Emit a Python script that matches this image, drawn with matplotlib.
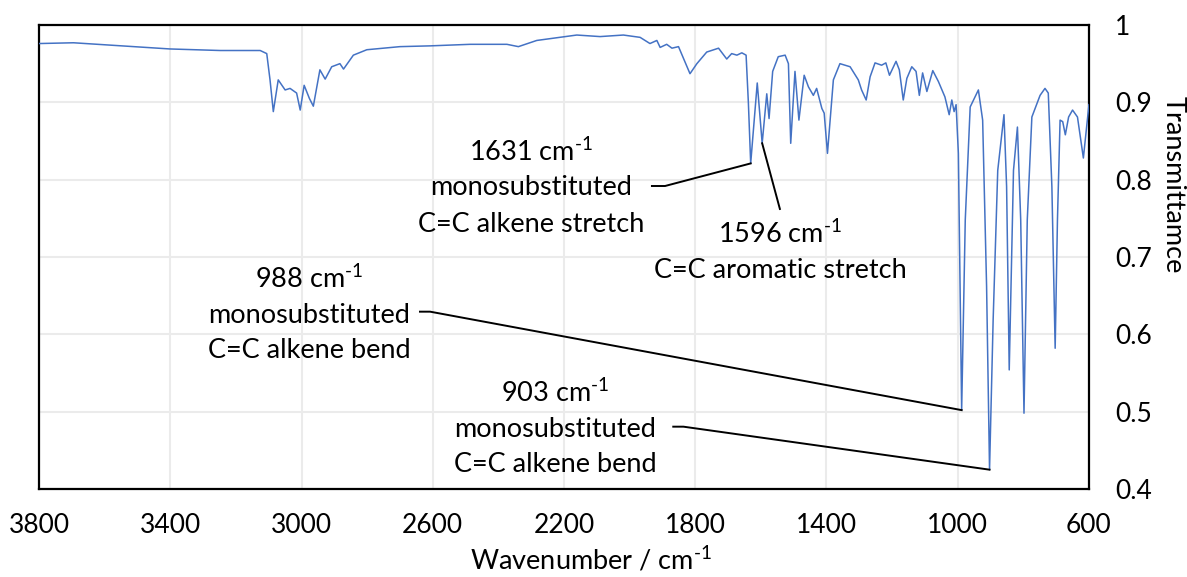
import numpy as np
import matplotlib.pyplot as plt

plt.rcParams['font.family'] = ['Lato', 'DejaVu Sans']
plt.rcParams['mathtext.fontset'] = 'custom'
plt.rcParams['mathtext.rm'] = 'Lato'
plt.rcParams['mathtext.default'] = 'regular'

# IR spectrum (wavenumber in cm-1, transmittance)
wavenumber = [
    3800, 3695, 3550, 3401, 3248, 3126, 3106, 3096, 3086, 3071, 3050, 3035,
    3015, 3004, 2992, 2976, 2964, 2944, 2928, 2908, 2883, 2872, 2842, 2801,
    2700, 2608, 2486, 2374, 2339, 2283, 2161, 2090, 2019, 1968, 1938, 1917,
    1907, 1887, 1871, 1851, 1836, 1816, 1795, 1765, 1729, 1704, 1689, 1673,
    1658, 1645, 1638, 1631, 1611, 1596, 1582, 1575, 1564, 1547, 1526, 1516,
    1509, 1496, 1484, 1468, 1455, 1440, 1430, 1414, 1407, 1397, 1387, 1379,
    1359, 1328, 1303, 1293, 1279, 1267, 1252, 1232, 1219, 1208, 1188, 1178,
    1166, 1155, 1140, 1127, 1117, 1107, 1094, 1076, 1059, 1039, 1026, 1018,
    1011, 1005, 998, 988, 977, 962, 937, 924, 912, 903, 892, 878,
    859, 851, 843, 830, 818, 808, 798, 788, 774, 749, 734, 724,
    713, 703, 696, 688, 680, 672, 662, 650, 635, 617, 600,
]
transmittance = [
    0.976, 0.977, 0.973, 0.969, 0.967, 0.967, 0.963, 0.929, 0.888, 0.929, 0.916, 0.918,
    0.912, 0.890, 0.922, 0.905, 0.895, 0.942, 0.930, 0.946, 0.950, 0.943, 0.961, 0.968,
    0.972, 0.973, 0.975, 0.975, 0.972, 0.980, 0.987, 0.985, 0.987, 0.984, 0.976, 0.980,
    0.971, 0.975, 0.970, 0.972, 0.957, 0.937, 0.950, 0.965, 0.970, 0.956, 0.963, 0.961,
    0.964, 0.961, 0.899, 0.821, 0.925, 0.847, 0.911, 0.879, 0.940, 0.959, 0.961, 0.950,
    0.847, 0.940, 0.877, 0.935, 0.920, 0.909, 0.918, 0.892, 0.886, 0.834, 0.886, 0.929,
    0.950, 0.946, 0.929, 0.916, 0.903, 0.933, 0.951, 0.948, 0.951, 0.935, 0.953, 0.942,
    0.903, 0.931, 0.946, 0.940, 0.909, 0.938, 0.914, 0.941, 0.927, 0.907, 0.884, 0.903,
    0.888, 0.897, 0.834, 0.502, 0.748, 0.894, 0.916, 0.877, 0.662, 0.425, 0.619, 0.812,
    0.884, 0.791, 0.554, 0.812, 0.868, 0.748, 0.498, 0.748, 0.881, 0.909, 0.918, 0.912,
    0.791, 0.582, 0.748, 0.877, 0.875, 0.858, 0.881, 0.890, 0.881, 0.828, 0.897,
]

x_ticks = [3800, 3400, 3000, 2600, 2200, 1800, 1400, 1000, 600]
y_ticks = [0.4, 0.5, 0.6, 0.7, 0.8, 0.9, 1.0]
y_ticklabels = ["0.4", "0.5", "0.6", "0.7", "0.8", "0.9", "1"]

# peak annotations
sup = "$^{\\text{-1}}$"
peak_positions = [1631, 1596, 988, 903]
peak_labels = [
    ["1631 cm" + sup, "monosubstituted", "C=C alkene stretch"],
    ["1596 cm" + sup, "C=C aromatic stretch"],
    ["988 cm" + sup, "monosubstituted", "C=C alkene bend"],
    ["903 cm" + sup, "monosubstituted", "C=C alkene bend"],
]
label_x = [2300, 1542, 2977, 2226]
label_baselines = [
    [0.8245, 0.7802, 0.7327],
    [0.7185, 0.6728],
    [0.6595, 0.6143, 0.569],
    [0.5129, 0.4676, 0.4224],
]
# leader line start points (and optional elbow)
leader_start = [(1932, 0.7918), (1542, 0.7621), (2639, 0.6293), (1867, 0.4806)]
leader_elbow = [(1892, 0.7918), None, (2608, 0.6293), (1836, 0.4806)]

fig = plt.figure(figsize=(11.87, 5.77), dpi=100)
ax = fig.add_axes([0.0329, 0.1525, 0.8845, 0.8042])

ax.plot(wavenumber, transmittance, color="#4472C4", linewidth=1.1, zorder=3)

ax.set_xlim(3800, 600)
ax.set_ylim(0.4, 1.0)
ax.set_xticks(x_ticks)
ax.set_yticks(y_ticks)
ax.set_yticklabels(y_ticklabels)
ax.grid(True, color="#ebebeb", linewidth=1.5, zorder=0)
ax.set_axisbelow(True)

ax.yaxis.tick_right()
ax.yaxis.set_label_position("right")
ax.tick_params(axis="both", length=0, labelsize=19)
ax.tick_params(axis="x", pad=17)
ax.tick_params(axis="y", pad=19)

for sp in ax.spines.values():
    sp.set_color("black")
    sp.set_linewidth(1.6)

ax.set_xlabel("Wavenumber / cm" + sup, fontsize=19.5)
ax.xaxis.set_label_coords(0.526, -0.122)
ax.set_ylabel("Transmittamce", fontsize=19.5, rotation=-90, va="center")
ax.yaxis.set_label_coords(1.08, 0.655)

wn_arr = np.array(wavenumber)
tr_arr = np.array(transmittance)
for i, peak in enumerate(peak_positions):
    for line, yb in zip(peak_labels[i], label_baselines[i]):
        ax.text(label_x[i], yb, line, ha="center", va="baseline", fontsize=19.5, zorder=4)
    peak_t = tr_arr[np.argmin(np.abs(wn_arr - peak))]
    xs = [leader_start[i][0]]
    ys = [leader_start[i][1]]
    if leader_elbow[i] is not None:
        xs.append(leader_elbow[i][0])
        ys.append(leader_elbow[i][1])
    xs.append(peak)
    ys.append(peak_t)
    ax.plot(xs, ys, color="black", linewidth=1.4, zorder=4)

fig.savefig("out.png", dpi=100)
